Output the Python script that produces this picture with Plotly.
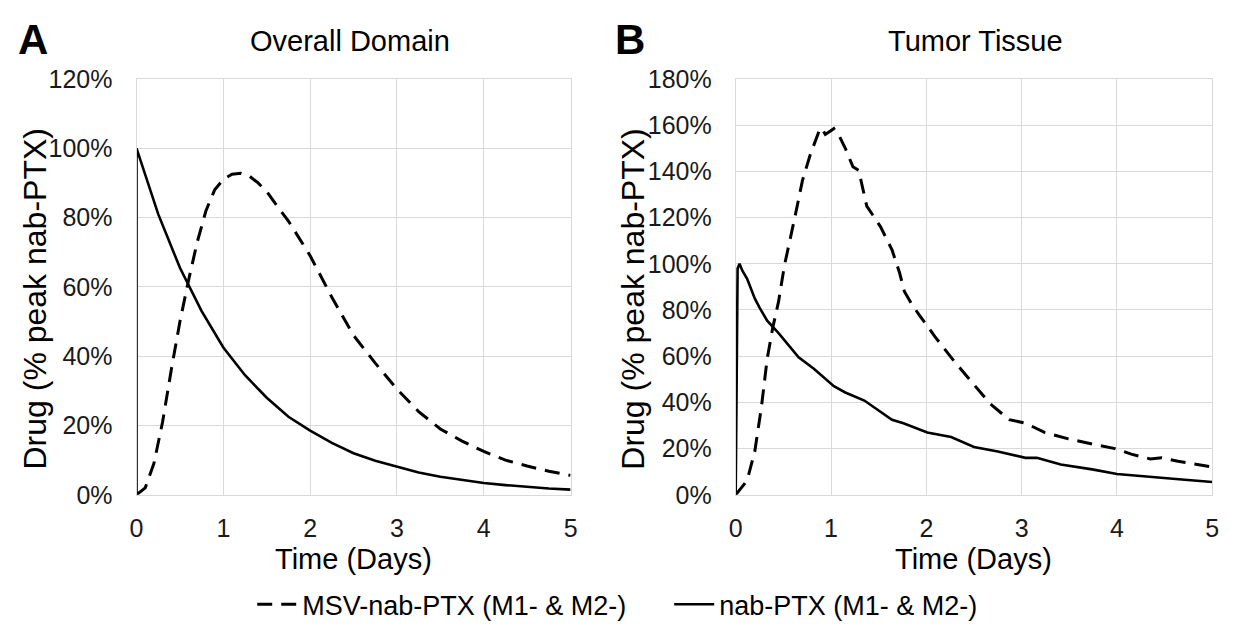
import plotly.graph_objects as go

W, H = 1243, 634

# ---- Data ----
# Panel A: Overall Domain
a_msv_t = [0, 0.1, 0.2, 0.3, 0.4, 0.5, 0.6, 0.7, 0.8, 0.9, 1.0, 1.1, 1.2, 1.3, 1.4, 1.5, 1.6,
           1.75, 2.0, 2.25, 2.5, 2.75, 3.0, 3.25, 3.5, 3.75, 4.0, 4.25, 4.5, 4.75, 5.0]
a_msv_y = [0, 2, 9, 21, 36, 50, 62, 73, 82, 88, 91, 92.5, 92.8, 92, 90, 87.5, 84,
           79, 69, 57, 46, 38, 30.5, 24, 19, 15.5, 12.5, 10, 8.3, 6.8, 5.6]

a_nab_t = [0, 0, 0.25, 0.5, 0.75, 1.0, 1.25, 1.5, 1.75, 2.0, 2.25, 2.5, 2.75, 3.0, 3.25,
           3.5, 3.75, 4.0, 4.25, 4.5, 4.75, 5.0]
a_nab_y = [0, 100, 81, 65.5, 53, 42.5, 34.5, 28, 22.5, 18.5, 15, 12, 9.8, 8, 6.4,
           5.2, 4.2, 3.4, 2.8, 2.2, 1.8, 1.5]

# Panel B: Tumor Tissue
b_msv_t = [0, 0.04, 0.12, 0.2, 0.27, 0.33, 0.39, 0.45, 0.51, 0.62, 0.70, 0.78, 0.82, 0.88, 0.90,
           0.94, 1.03, 1.09, 1.15, 1.23, 1.29, 1.33, 1.375, 1.44, 1.52, 1.64, 1.72, 1.77, 1.85,
           1.93, 2.09, 2.30, 2.50, 2.67, 2.87, 3.04, 3.24, 3.49, 3.74, 3.98, 4.15, 4.35, 4.47,
           4.64, 5.0]
b_msv_y = [0, 2, 6.2, 18.7, 38, 58.8, 72.6, 83.7, 99, 120, 136, 147, 151.6, 158, 158.8,
           156, 158.5, 155, 150, 142, 140.5, 133.6, 125, 121, 116, 106, 96, 88, 82.3,
           77.6, 68.5, 57.4, 47.7, 39.4, 32.5, 31, 27, 24.2, 22, 20, 17.6, 15.5, 16,
           14.5, 12]

b_nab_t = [0, 0.01, 0.02, 0.04, 0.07, 0.12, 0.2, 0.25, 0.33, 0.45, 0.66, 0.82, 1.03, 1.15, 1.35,
           1.64, 1.76, 2.01, 2.26, 2.5, 2.75, 3.04, 3.16, 3.41, 3.74, 4.0, 4.35, 4.68, 5.0]
b_nab_y = [0, 60, 98, 100, 97, 93.5, 85, 81, 75.4, 70, 59.5, 54.6, 47, 44.3, 40.8,
           32.5, 31, 27, 25, 20.7, 18.7, 16, 16, 13.1, 11, 9, 7.6, 6.6, 5.5]

x_ticks = [0, 1, 2, 3, 4, 5]
a_y_ticks = [0, 20, 40, 60, 80, 100, 120]
b_y_ticks = [0, 20, 40, 60, 80, 100, 120, 140, 160, 180]

names = ["MSV-nab-PTX (M1- & M2-)", "nab-PTX (M1- & M2-)"]
titles = ["Overall Domain", "Tumor Tissue"]
panel_letters = ["A", "B"]

FONT = "Arial, Liberation Sans, sans-serif"
GRID = "#d9d9d9"
DASH = "15px,9px"

fig = go.Figure()
fig.add_trace(go.Scatter(x=a_msv_t, y=a_msv_y, mode="lines", name=names[0],
                         line=dict(color="black", width=3, dash=DASH),
                         xaxis="x", yaxis="y", legendgroup="msv"))
fig.add_trace(go.Scatter(x=a_nab_t, y=a_nab_y, mode="lines", name=names[1],
                         line=dict(color="black", width=2.6),
                         xaxis="x", yaxis="y", legendgroup="nab"))
fig.add_trace(go.Scatter(x=b_msv_t, y=b_msv_y, mode="lines", name=names[0],
                         line=dict(color="black", width=3, dash=DASH),
                         xaxis="x2", yaxis="y2", legendgroup="msv", showlegend=False))
fig.add_trace(go.Scatter(x=b_nab_t, y=b_nab_y, mode="lines", name=names[1],
                         line=dict(color="black", width=2.6),
                         xaxis="x2", yaxis="y2", legendgroup="nab", showlegend=False))

def px(x):
    return x / W

def py(y):
    return 1 - y / H

yd = [py(503), py(68)]
common_x = dict(range=[0, 5], tickvals=x_ticks, showgrid=True, gridcolor=GRID, gridwidth=1,
                zeroline=False, showline=True, linecolor=GRID, linewidth=1, mirror=True,
                ticks="", ticklabelstandoff=11,
                tickfont=dict(size=25, color="#1a1a1a", family=FONT), fixedrange=True)
common_y = dict(showgrid=True, gridcolor=GRID, gridwidth=1, zeroline=False,
                showline=True, linecolor=GRID, linewidth=1, mirror=True,
                ticks="", ticklabelstandoff=18,
                tickfont=dict(size=25, color="#1a1a1a", family=FONT), fixedrange=True)

fig.update_layout(
    width=W, height=H,
    margin=dict(l=0, r=0, t=0, b=0),
    paper_bgcolor="white", plot_bgcolor="white",
    font=dict(family=FONT, color="black"),
    xaxis=dict(domain=[px(131), px(570)], anchor="y", **common_x),
    yaxis=dict(domain=yd, anchor="x", range=[0, 120], tickvals=a_y_ticks,
               ticktext=[f"{v}%" for v in a_y_ticks], **common_y),
    xaxis2=dict(domain=[px(737), px(1219)], anchor="y2", **common_x),
    yaxis2=dict(domain=yd, anchor="x2", range=[0, 180], tickvals=b_y_ticks,
                ticktext=[f"{v}%" for v in b_y_ticks], **common_y),
    legend=dict(orientation="h", x=px(248), xanchor="left", y=py(618), yanchor="middle",
                font=dict(size=27, color="black", family=FONT), itemwidth=40,
                entrywidth=362, entrywidthmode="pixels",
                bgcolor="rgba(0,0,0,0)"),
    showlegend=True,
)

ann = []
# panel letters
for letter, xc in zip(panel_letters, [26, 630]):
    ann.append(dict(text=f"<b>{letter}</b>", x=px(xc), y=py(27), xref="paper", yref="paper",
                    showarrow=False, xanchor="center", yanchor="middle",
                    font=dict(size=42, color="black", family=FONT)))
# panel titles
for t, xc in zip(titles, [347, 980]):
    ann.append(dict(text=t, x=px(xc), y=py(28), xref="paper", yref="paper",
                    showarrow=False, xanchor="center", yanchor="middle",
                    font=dict(size=29, color="black", family=FONT)))
# x axis titles
for xc in [350, 978]:
    ann.append(dict(text="Time (Days)", x=px(xc), y=py(570), xref="paper", yref="paper",
                    showarrow=False, xanchor="center", yanchor="middle",
                    font=dict(size=29, color="black", family=FONT)))
# y axis titles
for xc in [28, 633]:
    ann.append(dict(text="Drug (% peak nab-PTX)", x=px(xc), y=py(298), xref="paper", yref="paper",
                    showarrow=False, xanchor="center", yanchor="middle", textangle=-90,
                    font=dict(size=32, color="black", family=FONT)))
fig.update_layout(annotations=ann)

fig.write_html("out.html")
